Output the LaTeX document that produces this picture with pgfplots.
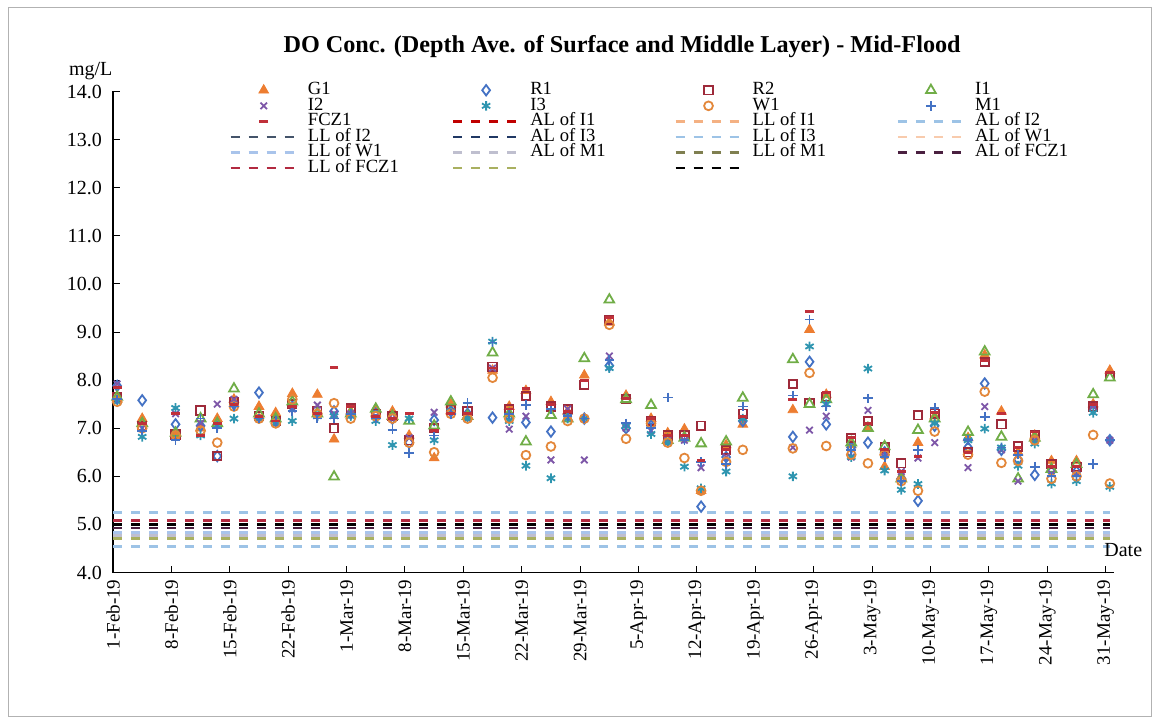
\documentclass[border=0pt]{standalone}
\usepackage{pgfplots}
\pgfplotsset{compat=1.18}
\usepackage{pgfplotstable}
\usepackage{fontspec}
\setmainfont{Liberation Serif}

\definecolor{cG}{HTML}{ED7D31}
\definecolor{cRa}{HTML}{4472C4}
\definecolor{cRb}{HTML}{9E2A3A}
\definecolor{cIa}{HTML}{70AD47}
\definecolor{cIb}{HTML}{7E57A8}
\definecolor{cIc}{HTML}{2E95B0}
\definecolor{cW}{HTML}{E3873A}
\definecolor{cM}{HTML}{4472C4}
\definecolor{cF}{HTML}{C0303A}
\definecolor{lALIa}{HTML}{C00000}
\definecolor{lLLIa}{HTML}{F4B183}
\definecolor{lALIb}{HTML}{9DC3E6}
\definecolor{lLLIb}{HTML}{44546A}
\definecolor{lALIc}{HTML}{203864}
\definecolor{lLLIc}{HTML}{9DC3E6}
\definecolor{lALW}{HTML}{F8CBAD}
\definecolor{lLLW}{HTML}{A9C4EB}
\definecolor{lALM}{HTML}{BFBFCF}
\definecolor{lLLM}{HTML}{7F7F50}
\definecolor{lALF}{HTML}{4A2040}
\definecolor{lLLF}{HTML}{B22A40}
\definecolor{lOl}{HTML}{A9B060}

\pgfplotstableread{
x G R1 R2 I1 I2 I3 W1 M1 F
0.5 7.60 7.88 7.65 7.65 7.92 7.55 7.55 7.60 7.85
3.5 7.20 7.58 7.05 7.10 7.00 6.82 7.00 6.95 7.10
7.5 6.85 7.08 6.87 6.90 7.30 7.42 6.85 6.75 7.30
10.5 7.00 7.05 7.37 7.20 7.10 6.85 6.95 7.20 6.85
12.5 7.20 6.42 6.42 7.10 7.50 7.05 6.70 7.00 7.10
14.5 7.60 7.50 7.55 7.82 7.60 7.20 7.45 7.45 7.50
17.5 7.45 7.74 7.25 7.30 7.20 7.20 7.20 7.20 7.25
19.5 7.32 7.15 7.15 7.20 7.10 7.10 7.10 7.15 7.15
21.5 7.72 7.45 7.50 7.55 7.40 7.15 7.60 7.35 7.45
24.5 7.70 7.30 7.35 7.30 7.48 7.25 7.30 7.20 7.30
26.5 6.77 7.35 7.00 5.99 7.30 7.25 7.52 7.20 8.26
28.5 7.35 7.30 7.42 7.30 7.30 7.25 7.20 7.30 7.45
31.5 7.40 7.30 7.30 7.40 7.25 7.15 7.25 7.20 7.25
33.5 7.35 7.20 7.25 7.25 7.20 6.65 7.20 6.97 7.20
35.5 6.85 6.70 6.75 7.15 6.80 7.20 6.70 6.48 7.30
38.5 6.38 7.17 7.00 7.05 7.33 6.75 6.50 6.85 6.95
40.5 7.50 7.35 7.40 7.55 7.35 7.35 7.30 7.30 7.30
42.5 7.25 7.30 7.35 7.25 7.20 7.20 7.20 7.52 7.30
45.5 8.20 7.22 8.28 8.57 8.25 8.80 8.05 8.78 8.25
47.5 7.45 7.25 7.40 7.30 6.98 7.15 7.20 7.30 7.40
49.5 7.78 7.12 7.67 6.72 7.25 6.22 6.44 7.48 7.82
52.5 7.55 6.93 7.45 7.27 6.34 5.96 6.62 7.40 7.50
54.5 7.35 7.30 7.40 7.20 7.40 7.20 7.15 7.25 7.35
56.5 8.10 7.20 7.90 8.45 6.34 7.20 7.20 7.20 8.00
59.5 9.20 8.30 9.25 9.67 8.50 8.25 9.15 8.42 9.30
61.5 7.68 7.00 7.60 7.60 7.00 7.05 6.78 7.10 7.62
64.5 7.20 7.05 7.15 7.48 6.95 6.88 7.10 7.00 7.20
66.5 6.90 6.75 6.85 6.75 6.75 6.70 6.70 7.64 6.85
68.5 6.98 6.80 6.85 6.80 6.75 6.20 6.38 6.75 6.85
70.5 5.70 5.37 7.05 6.68 6.18 5.75 5.70 6.30 6.33
73.5 6.65 6.40 6.55 6.72 6.40 6.10 6.30 6.25 6.55
75.5 7.08 7.15 7.30 7.63 7.20 7.20 6.55 7.45 7.25
81.5 7.38 6.82 7.92 8.43 6.60 6.00 6.58 7.68 7.60
83.5 9.05 8.38 7.52 7.50 6.96 8.70 8.15 9.26 9.42
85.5 7.70 7.08 7.65 7.60 7.25 7.50 6.63 7.45 7.75
88.5 6.65 6.60 6.80 6.70 6.40 6.40 6.45 6.55 6.80
90.5 7.00 6.70 7.15 7.00 7.37 8.24 6.27 7.62 7.10
92.5 6.20 6.50 6.60 6.62 6.50 6.12 6.45 6.40 6.55
94.5 6.00 5.95 6.27 5.95 6.10 5.72 5.90 5.90 6.10
96.5 6.70 5.49 7.27 6.96 6.38 5.84 5.70 6.55 6.42
98.5 7.25 7.05 7.30 7.20 6.70 7.10 6.93 7.42 7.32
102.5 6.80 6.60 6.50 6.92 6.18 6.75 6.45 6.75 6.50
104.5 8.52 7.93 8.38 8.59 7.45 6.99 7.76 7.24 8.40
106.5 7.35 6.55 7.08 6.82 6.55 6.60 6.28 6.60 7.30
108.5 6.50 6.35 6.62 5.95 5.90 6.22 6.32 6.45 6.60
110.5 6.85 6.03 6.85 6.80 6.75 6.68 6.75 6.20 6.92
112.5 6.32 6.10 6.25 6.15 6.05 5.85 5.95 6.00 6.20
115.5 6.32 6.10 6.20 6.25 6.05 5.90 6.00 6.00 6.20
117.5 7.50 7.40 7.45 7.70 7.45 7.32 6.86 6.25 7.50
119.5 8.20 6.75 8.08 8.05 6.75 5.78 5.85 6.75 8.15
}\dotable

\pgfplotsset{
  markleg/.style={legend image code/.code={\draw[##1] plot coordinates {(16.5pt,0pt)};}},
  lineleg/.style={legend image code/.code={\draw[##1] (0pt,0pt) -- (33pt,0pt);}},
  lim/.style={lineleg, line width=1.2pt, dash pattern=on 4.6pt off 4.4pt},
}
\newcommand{\LE}[1]{\makebox[77pt][l]{\hspace{5pt}#1}}

\begin{document}
\begin{tikzpicture}
\useasboundingbox (0,0) rectangle (580pt,362pt);
\draw[gray!60, line width=0.5pt] (4pt,4pt) rectangle (575.5pt,358pt);
\begin{axis}[
  at={(56.5pt,75.75pt)}, anchor=south west,
  scale only axis, width=500.5pt, height=240.5pt,
  xmin=0, xmax=120, ymin=4, ymax=14, clip=false,
  axis x line*=bottom, axis y line*=left,
  axis line style={-, line width=0.6pt},
  tick align=inside, major tick length=3.5pt,
  tick style={black, line width=0.5pt},
  xtick={0,7,...,119},
  xticklabels={1-Feb-19,8-Feb-19,15-Feb-19,22-Feb-19,1-Mar-19,8-Mar-19,15-Mar-19,22-Mar-19,29-Mar-19,5-Apr-19,12-Apr-19,19-Apr-19,26-Apr-19,3-May-19,10-May-19,17-May-19,24-May-19,31-May-19},
  x tick label style={rotate=90, anchor=east, font=\fontsize{9.5}{10}\selectfont},
  ytick={4,5,...,14},
  y tick label style={font=\fontsize{10}{10}\selectfont, xshift=-2pt},
  yticklabel style={/pgf/number format/.cd, fixed, fixed zerofill, precision=1, assume math mode=true},
  title={DO Conc. (Depth Ave. of Surface and Middle Layer) - Mid-Flood},
  title style={at={(0.5086,1)}, anchor=base, yshift=13.25pt, font=\bfseries\fontsize{12.1}{12.1}\selectfont},
  legend columns=4,
  legend cell align=left,
  legend style={at={(0.11,1.028)}, anchor=north west, draw=none, fill=none,
    font=\fontsize{9.3}{9.3}\selectfont, column sep=0pt, row sep=0pt,
    nodes={inner sep=0pt, text height=6pt, text depth=1.8pt}},
]
\addplot[markleg, only marks, mark=triangle*, mark size=2.8pt, color=cG] table[x=x,y=G]{\dotable};
\addlegendentry{\LE{G1}}
\addplot[markleg, only marks, mark=diamond, mark size=2.6pt, color=cRa, line width=0.9pt] table[x=x,y=R1]{\dotable};
\addlegendentry{\LE{R1}}
\addplot[markleg, only marks, mark=square, mark size=2.1pt, color=cRb, line width=0.9pt] table[x=x,y=R2]{\dotable};
\addlegendentry{\LE{R2}}
\addplot[markleg, only marks, mark=triangle, mark size=2.8pt, color=cIa, line width=0.9pt] table[x=x,y=I1]{\dotable};
\addlegendentry{\LE{I1}}
\addplot[markleg, only marks, mark=x, mark size=2.3pt, color=cIb, line width=0.9pt] table[x=x,y=I2]{\dotable};
\addlegendentry{\LE{I2}}
\addplot[markleg, only marks, mark=asterisk, mark size=2.4pt, color=cIc, line width=0.9pt] table[x=x,y=I3]{\dotable};
\addlegendentry{\LE{I3}}
\addplot[markleg, only marks, mark=o, mark size=2.2pt, color=cW, line width=0.9pt] table[x=x,y=W1]{\dotable};
\addlegendentry{\LE{W1}}
\addplot[markleg, only marks, mark=+, mark size=2.4pt, color=cM, line width=0.9pt] table[x=x,y=M1]{\dotable};
\addlegendentry{\LE{M1}}
\addplot[markleg, only marks, mark=-, mark size=2.2pt, color=cF, line width=1.4pt] table[x=x,y=F]{\dotable};
\addlegendentry{\LE{FCZ1}}
\addplot[lim, color=lALIa] coordinates {(0,5.08) (119.5,5.08)};
\addlegendentry{\LE{AL of I1}}
\addplot[lim, color=lLLIa] coordinates {(0,4.71) (119.5,4.71)};
\addlegendentry{\LE{LL of I1}}
\addplot[lim, color=lALIb] coordinates {(0,5.25) (119.5,5.25)};
\addlegendentry{\LE{AL of I2}}
\addplot[lim, color=lLLIb] coordinates {(0,5.01) (119.5,5.01)};
\addlegendentry{\LE{LL of I2}}
\addplot[lim, color=lALIc] coordinates {(0,5.01) (119.5,5.01)};
\addlegendentry{\LE{AL of I3}}
\addplot[lim, color=lLLIc] coordinates {(0,4.54) (119.5,4.54)};
\addlegendentry{\LE{LL of I3}}
\addplot[lim, color=lALW] coordinates {(0,4.71) (119.5,4.71)};
\addlegendentry{\LE{AL of W1}}
\addplot[lim, color=lLLW] coordinates {(0,4.83) (119.5,4.83)};
\addlegendentry{\LE{LL of W1}}
\addplot[lim, color=lALM] coordinates {(0,4.77) (119.5,4.77)};
\addlegendentry{\LE{AL of M1}}
\addplot[lim, color=lLLM] coordinates {(0,4.71) (119.5,4.71)};
\addlegendentry{\LE{LL of M1}}
\addplot[lim, color=lALF] coordinates {(0,4.92) (119.5,4.92)};
\addlegendentry{\LE{AL of FCZ1}}
\addplot[lim, color=lLLF] coordinates {(0,5.08) (119.5,5.08)};
\addlegendentry{\LE{LL of FCZ1}}
\addplot[lim, color=lOl] coordinates {(0,4.71) (119.5,4.71)};
\addlegendentry{\LE{}}
\addplot[lim, color=black] coordinates {(0,5.00) (119.5,5.00)};
\addlegendentry{\LE{}}
\node[anchor=base west, font=\fontsize{10}{10}\selectfont] at (rel axis cs:-0.051,1) [yshift=7.75pt] {mg/L};
\node[anchor=base west, font=\fontsize{10}{10}\selectfont] at (axis cs:118,4.34) {Date};
\end{axis}
\end{tikzpicture}
\end{document}
